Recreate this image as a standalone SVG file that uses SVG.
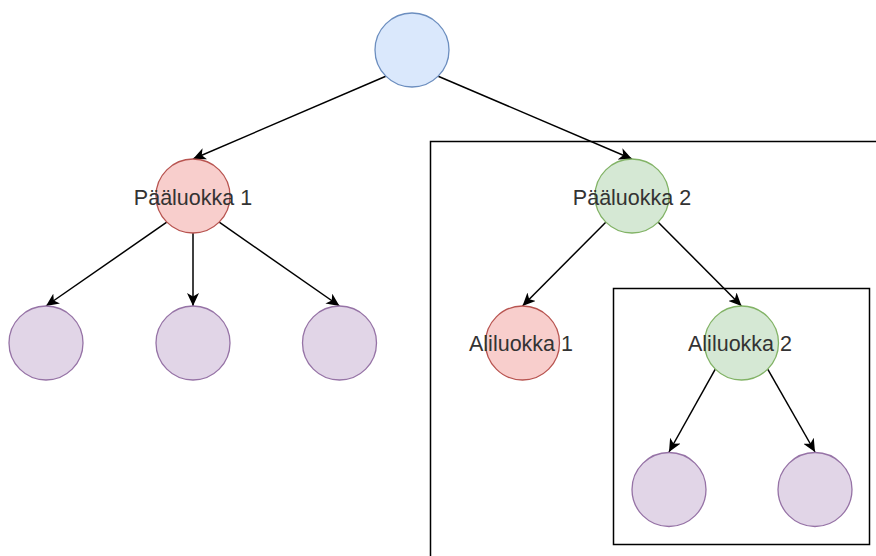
<svg xmlns="http://www.w3.org/2000/svg" width="876" height="556" viewBox="0 0 876 556">
<defs>
<style>
.blue{fill:#dae8fc;stroke:#6c8ebf;stroke-width:1.3}
.red{fill:#f8cecc;stroke:#b85450;stroke-width:1.3}
.green{fill:#d5e8d4;stroke:#82b366;stroke-width:1.3}
.purple{fill:#e1d5e7;stroke:#9673a6;stroke-width:1.3}
.frame{fill:none;stroke:#000;stroke-width:1.5}
.edge{fill:none;stroke:#000;stroke-width:1.5;marker-end:url(#arr)}
.lbl{font-family:"Liberation Sans",Arial,sans-serif;font-size:21.5px;fill:#333;text-anchor:middle}
</style>
<marker id="arr" markerUnits="userSpaceOnUse" markerWidth="13" markerHeight="12" refX="13" refY="6" orient="auto" viewBox="0 0 13 12">
<path d="M0,0 L13,6 L0,12 L3.5,6 z" fill="#000"/>
</marker>
</defs>
<rect id="frame-outer" class="frame" x="430.5" y="141.5" width="470" height="440"/>
<rect id="frame-inner" class="frame" x="613.5" y="288.5" width="256" height="256"/>
<g id="connectors">
<line class="edge" x1="385.8" y1="76.2" x2="193" y2="159"/>
<line class="edge" x1="438.2" y1="76.2" x2="632" y2="159"/>
<line class="edge" x1="166.8" y1="222.2" x2="46" y2="306"/>
<line class="edge" x1="193" y1="233" x2="193" y2="306"/>
<line class="edge" x1="219.2" y1="222.2" x2="339.5" y2="306"/>
<line class="edge" x1="605.8" y1="222.2" x2="522.5" y2="306"/>
<line class="edge" x1="658.2" y1="222.2" x2="741.5" y2="306"/>
<line class="edge" x1="715.3" y1="369.2" x2="669" y2="452"/>
<line class="edge" x1="767.7" y1="369.2" x2="815" y2="452"/>
</g>
<g id="root"><circle class="blue" cx="412" cy="50" r="37"/></g>
<g id="paaluokka1"><circle class="red" cx="193" cy="196" r="37"/><text class="lbl" x="193" y="204.5">Pääluokka 1</text></g>
<g id="paaluokka2"><circle class="green" cx="632" cy="196" r="37"/><text class="lbl" x="632" y="204.5">Pääluokka 2</text></g>
<g id="leaf1"><circle class="purple" cx="46" cy="343" r="37"/></g>
<g id="leaf2"><circle class="purple" cx="193" cy="343" r="37"/></g>
<g id="leaf3"><circle class="purple" cx="339.5" cy="343" r="37"/></g>
<g id="aliluokka1"><circle class="red" cx="522.5" cy="343" r="37"/><text class="lbl" x="521" y="351">Aliluokka 1</text></g>
<g id="aliluokka2"><circle class="green" cx="741.5" cy="343" r="37"/><text class="lbl" x="740" y="351">Aliluokka 2</text></g>
<g id="leaf4"><circle class="purple" cx="669" cy="489.5" r="37"/></g>
<g id="leaf5"><circle class="purple" cx="815" cy="489.5" r="37"/></g>
</svg>
